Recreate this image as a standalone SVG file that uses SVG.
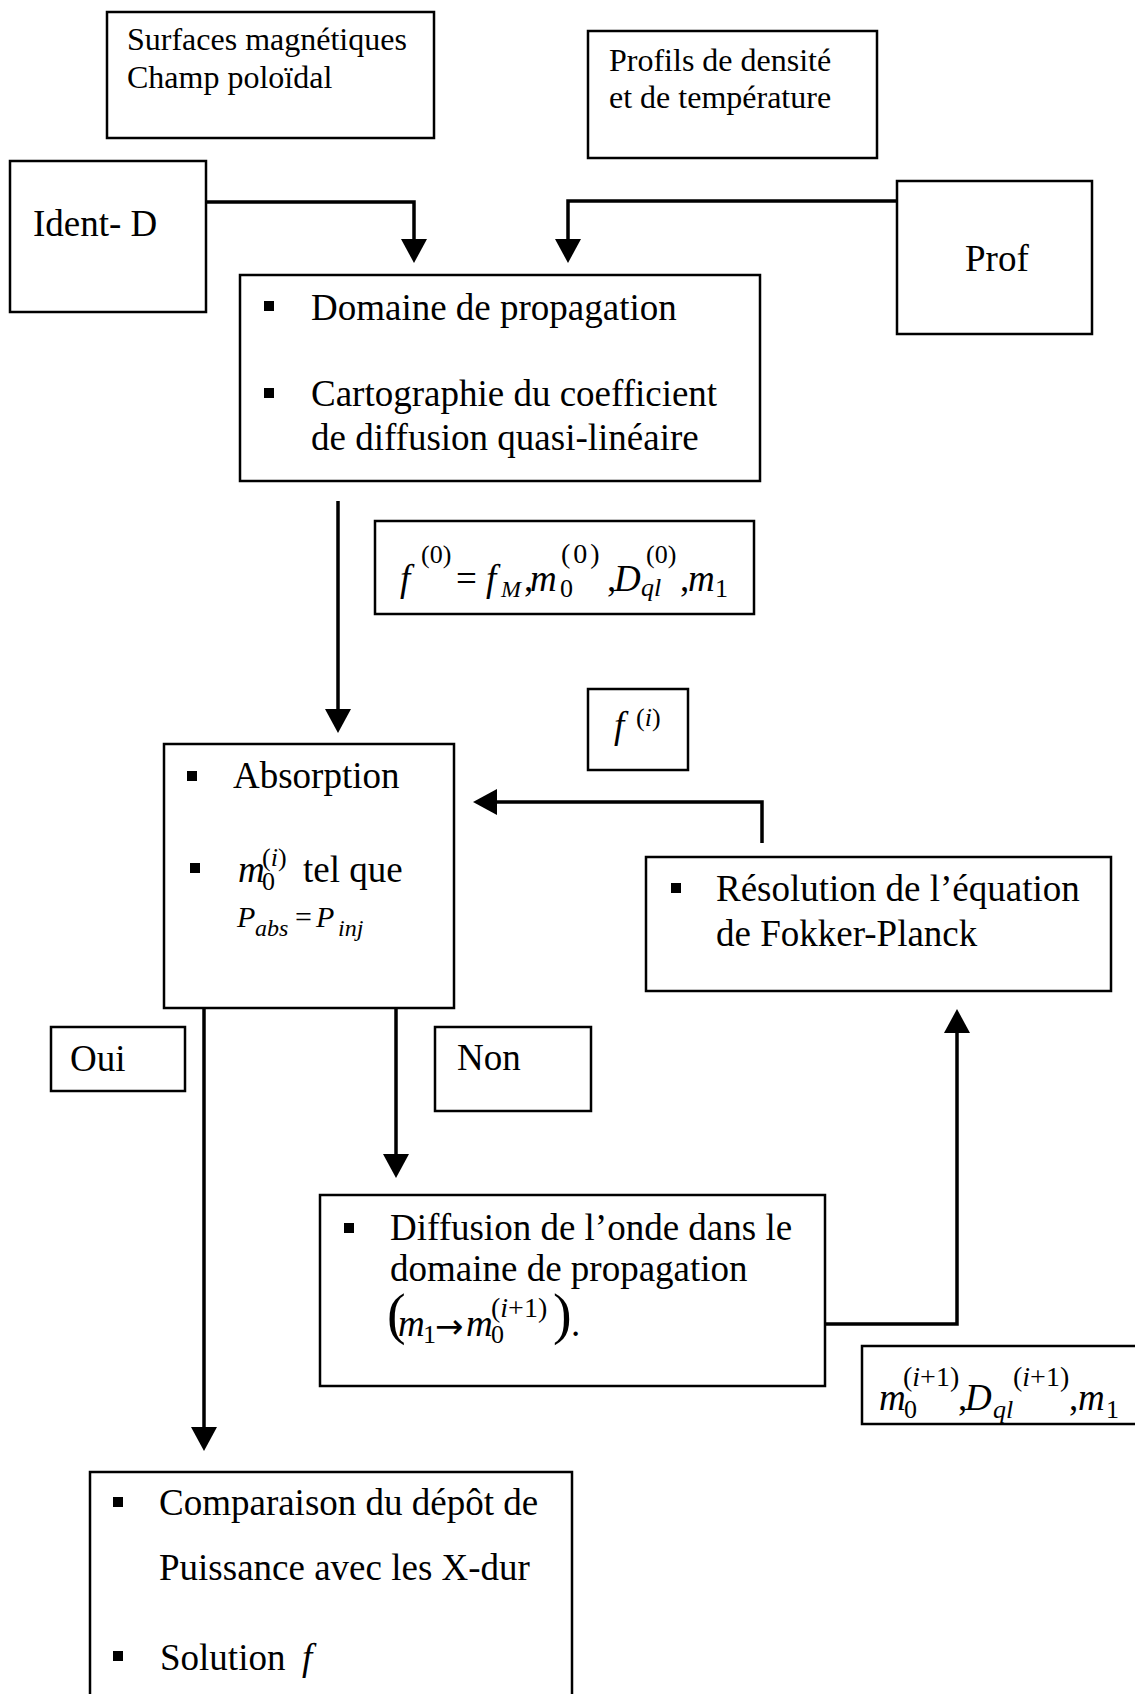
<svg xmlns="http://www.w3.org/2000/svg" width="1135" height="1694" viewBox="0 0 1135 1694">
<style>
.box{fill:#fff;stroke:#000;stroke-width:2.5}
.t{font-family:"Liberation Serif","Times New Roman",serif;fill:#000}
.s32{font-size:32px}
.s37{font-size:37px}
.s26{font-size:26px}
.s28{font-size:28px}
.s24{font-size:24px}
.i{font-style:italic}
.conn{fill:none;stroke:#000;stroke-width:3.5;stroke-linejoin:miter}
.b{fill:#000}
</style>
<defs>
<marker id="arr" markerUnits="userSpaceOnUse" markerWidth="24" markerHeight="26" viewBox="0 0 24 26" refX="20" refY="13" orient="auto">
<path d="M0,0 L24,13 L0,26 Z" fill="#000"/>
</marker>
</defs>
<rect width="1135" height="1694" fill="#fff"/>

<g id="connectors">
<path class="conn" marker-end="url(#arr)" d="M206,202 H414 V259"/>
<path class="conn" marker-end="url(#arr)" d="M897,201 H568 V259"/>
<path class="conn" marker-end="url(#arr)" d="M338,501 V729"/>
<path class="conn" marker-end="url(#arr)" d="M762,843 V802 H477"/>
<path class="conn" marker-end="url(#arr)" d="M204,1008 V1447"/>
<path class="conn" marker-end="url(#arr)" d="M396,1008 V1174"/>
<path class="conn" marker-end="url(#arr)" d="M825,1324 H957 V1013"/>
</g>

<g id="surfaces">
<rect class="box" x="107" y="12" width="327" height="126"/>
<text class="t s32" x="127" y="50">Surfaces magnétiques</text>
<text class="t s32" x="127" y="88">Champ poloïdal</text>
</g>

<g id="profils">
<rect class="box" x="588" y="31" width="289" height="127"/>
<text class="t s32" x="609" y="71">Profils de densité</text>
<text class="t s32" x="609" y="108">et de température</text>
</g>

<g id="ident-d">
<rect class="box" x="10" y="161" width="196" height="151"/>
<text class="t s37" x="33" y="236">Ident- D</text>
</g>

<g id="prof">
<rect class="box" x="897" y="181" width="195" height="153"/>
<text class="t s37" x="965" y="271">Prof</text>
</g>

<g id="domaine">
<rect class="box" x="240" y="275" width="520" height="206"/>
<rect class="b" x="264" y="301" width="10" height="10"/>
<text class="t s37" x="311" y="320">Domaine de propagation</text>
<rect class="b" x="264" y="388" width="10" height="10"/>
<text class="t s37" x="311" y="406">Cartographie du coefficient</text>
<text class="t s37" x="311" y="450">de diffusion quasi-linéaire</text>
</g>

<g id="f0">
<rect class="box" x="375" y="521" width="379" height="93"/>
<text class="t s37"><tspan class="i" x="400" y="591">f</tspan><tspan class="s26" x="421" y="563">(0)</tspan><tspan x="456" y="591">=</tspan><tspan class="i" x="486" y="591">f</tspan><tspan class="i s24" x="501" y="597">M</tspan><tspan x="524" y="591">,</tspan><tspan class="i" x="530" y="591">m</tspan><tspan class="s26" x="560" y="597">0</tspan><tspan class="s28" x="561" y="563" letter-spacing="3">(0)</tspan><tspan x="607" y="591">,</tspan><tspan class="i" x="614" y="591">D</tspan><tspan class="i s26" x="641" y="596">ql</tspan><tspan class="s26" x="646" y="563">(0)</tspan><tspan x="680" y="591">,</tspan><tspan class="i" x="688" y="591">m</tspan><tspan class="s26" x="715" y="597">1</tspan></text>
</g>

<g id="fi">
<rect class="box" x="588" y="689" width="100" height="81"/>
<text class="t s37"><tspan class="i" x="614" y="738">f</tspan><tspan class="s26" x="636" y="726">(<tspan class="i">i</tspan>)</tspan></text>
</g>

<g id="absorption">
<rect class="box" x="164" y="744" width="290" height="264"/>
<rect class="b" x="187" y="771" width="10" height="10"/>
<text class="t s37" x="233" y="788">Absorption</text>
<rect class="b" x="190" y="863" width="10" height="10"/>
<text class="t s37"><tspan class="i" x="238" y="882">m</tspan><tspan class="s26" x="262" y="890">0</tspan><tspan class="s26" x="262" y="866">(<tspan class="i">i</tspan>)</tspan><tspan x="303" y="882">tel que</tspan></text>
<text class="t" style="font-size:30px"><tspan class="i" x="237" y="927">P</tspan><tspan class="i s24" x="255" y="936">abs</tspan><tspan x="295" y="927">=</tspan><tspan class="i" x="316" y="927">P</tspan><tspan class="i s24" x="338" y="936">inj</tspan></text>
</g>

<g id="resolution">
<rect class="box" x="646" y="857" width="465" height="134"/>
<rect class="b" x="671" y="883" width="10" height="10"/>
<text class="t s37" x="716" y="901">Résolution de l’équation</text>
<text class="t s37" x="716" y="946">de Fokker-Planck</text>
</g>

<g id="oui">
<rect class="box" x="51" y="1027" width="134" height="64"/>
<text class="t s37" x="70" y="1071">Oui</text>
</g>

<g id="non">
<rect class="box" x="435" y="1027" width="156" height="84"/>
<text class="t s37" x="457" y="1070">Non</text>
</g>

<g id="diffusion">
<rect class="box" x="320" y="1195" width="505" height="191"/>
<rect class="b" x="344" y="1223" width="10" height="10"/>
<text class="t s37" x="390" y="1240">Diffusion de l’onde dans le</text>
<text class="t s37" x="390" y="1281">domaine de propagation</text>
<text class="t s37"><tspan style="font-size:56px" x="387" y="1333">(</tspan><tspan class="i" x="398" y="1336">m</tspan><tspan class="s26" x="423" y="1343">1</tspan><tspan style="font-family:'DejaVu Sans',sans-serif;font-size:34px" x="435" y="1338">→</tspan><tspan class="i" x="466" y="1336">m</tspan><tspan class="s26" x="491" y="1343">0</tspan><tspan class="s28" x="491" y="1317">(<tspan class="i">i</tspan>+1)</tspan><tspan style="font-size:56px" x="553" y="1333">)</tspan><tspan x="571" y="1336">.</tspan></text>
</g>

<g id="m0-iplus1">
<rect class="box" x="862" y="1346" width="290" height="78"/>
<text class="t s37"><tspan class="i" x="879" y="1410">m</tspan><tspan class="s26" x="904" y="1418">0</tspan><tspan class="s28" x="903" y="1386">(<tspan class="i">i</tspan>+1)</tspan><tspan x="958" y="1410">,</tspan><tspan class="i" x="965" y="1410">D</tspan><tspan class="i s26" x="993" y="1418">ql</tspan><tspan class="s28" x="1013" y="1386">(<tspan class="i">i</tspan>+1)</tspan><tspan x="1069" y="1410">,</tspan><tspan class="i" x="1078" y="1410">m</tspan><tspan class="s26" x="1106" y="1418">1</tspan></text>
</g>

<g id="comparaison">
<rect class="box" x="90" y="1472" width="482" height="260"/>
<rect class="b" x="113" y="1497" width="10" height="10"/>
<text class="t s37" x="159" y="1515">Comparaison du dépôt de</text>
<text class="t s37" x="159" y="1580">Puissance avec les X-dur</text>
<rect class="b" x="113" y="1651" width="10" height="10"/>
<text class="t s37"><tspan x="160" y="1670">Solution</tspan><tspan class="i" x="302" y="1670">f</tspan></text>
</g>
</svg>
